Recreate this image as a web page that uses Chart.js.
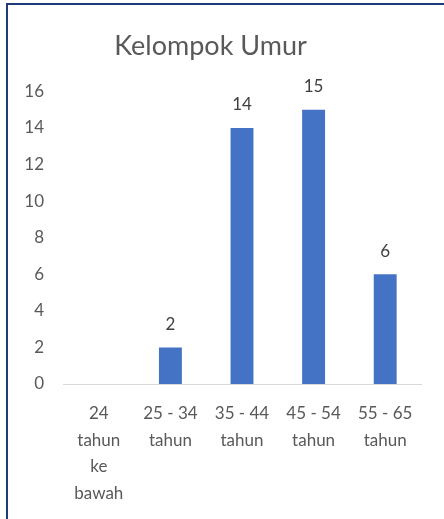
<!DOCTYPE html>
<html>
<head>
<meta charset="utf-8">
<script src="https://cdn.jsdelivr.net/npm/chart.js@4.4.1/dist/chart.umd.min.js"></script>
<style>
  html, body { margin: 0; padding: 0; background: #fff; overflow: hidden; }
  #wrap { position: relative; width: 444px; height: 519px; }
  #bingkai {
    position: absolute; left: 6px; top: 3px; right: -10px; bottom: -10px;
    border-top: 2px solid #1f3a78; border-left: 2px solid #1f3a78;
  }
  canvas { position: absolute; left: 0; top: 0; }
</style>
</head>
<body>
<div id="wrap">
  <div id="bingkai"></div>
  <canvas id="grafik" width="444" height="519"></canvas>
</div>
<script>
/* ── Data ─────────────────────────────────────────── */
const judul = 'Kelompok Umur';
const kategori = [
  ['24', 'tahun', 'ke', 'bawah'],
  ['25 - 34', 'tahun'],
  ['35 - 44', 'tahun'],
  ['45 - 54', 'tahun'],
  ['55 - 65', 'tahun'],
];
const jumlah = [0, 2, 14, 15, 6];
const sumbuY = { min: 0, max: 16, langkah: 2 };

const FONT = 'Lato, "Open Sans", sans-serif';

// Label nilai di atas batang (tanpa plugin eksternal)
const labelNilai = {
  id: 'labelNilai',
  afterDatasetsDraw(chart) {
    const { ctx } = chart;
    const meta = chart.getDatasetMeta(0);
    ctx.save();
    ctx.font = '17px ' + FONT;
    ctx.fillStyle = '#404040';
    ctx.textAlign = 'center';
    ctx.textBaseline = 'middle';
    meta.data.forEach((bar, i) => {
      if (!jumlah[i]) return;
      ctx.fillText(String(jumlah[i]), bar.x, bar.y - 23);
    });
    ctx.restore();
  },
};

new Chart(document.getElementById('grafik'), {
  type: 'bar',
  data: {
    labels: kategori,
    datasets: [{
      data: jumlah,
      backgroundColor: '#4472c4',
      barPercentage: 0.32,
      categoryPercentage: 1,
    }],
  },
  options: {
    responsive: false,
    animation: false,
    layout: { padding: { left: 0, right: 23, top: 0, bottom: 0 } },
    plugins: {
      legend: { display: false },
      tooltip: { enabled: false },
      title: {
        display: true,
        text: judul,
        color: '#595959',
        font: { family: FONT, size: 27, weight: 'normal' },
        padding: { top: 30, bottom: 29 },
      },
    },
    scales: {
      x: {
        grid: { display: false },
        border: { display: true, color: '#d9d9d9', width: 1 },
        ticks: {
          color: '#595959',
          font: { family: FONT, size: 17, lineHeight: 1.57 },
          maxRotation: 0,
          autoSkip: false,
          padding: 8,
        },
        afterFit: s => { s.height = 135; },
      },
      y: {
        min: sumbuY.min,
        max: sumbuY.max,
        grid: { display: false },
        border: { display: false },
        ticks: {
          stepSize: sumbuY.langkah,
          color: '#595959',
          font: { family: FONT, size: 17 },
          padding: 11,
        },
        afterFit: s => { s.width = 63; },
      },
    },
  },
  plugins: [labelNilai],
});
</script>
</body>
</html>
